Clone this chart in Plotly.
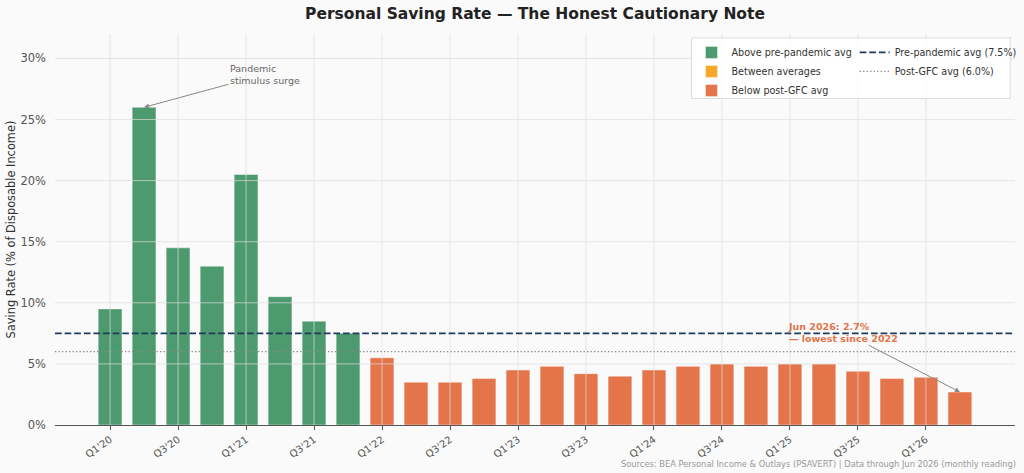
import plotly.graph_objects as go

quarters = ["Q1'20", "Q2'20", "Q3'20", "Q4'20", "Q1'21", "Q2'21", "Q3'21", "Q4'21",
            "Q1'22", "Q2'22", "Q3'22", "Q4'22", "Q1'23", "Q2'23", "Q3'23", "Q4'23",
            "Q1'24", "Q2'24", "Q3'24", "Q4'24", "Q1'25", "Q2'25", "Q3'25", "Q4'25",
            "Q1'26", "Q2'26"]
saving_rate = [9.5, 26.0, 14.5, 13.0, 20.5, 10.5, 8.5, 7.5,
               5.5, 3.5, 3.5, 3.8, 4.5, 4.8, 4.2, 4.0,
               4.5, 4.8, 5.0, 4.8, 5.0, 5.0, 4.4, 3.8,
               3.9, 2.7]
pre_pandemic_avg = 7.5
post_gfc_avg = 6.0
y_ticks = [0, 5, 10, 15, 20, 25, 30]
y_tick_labels = [f"{v}%" for v in y_ticks]

GREEN = "#4C9A6E"
AMBER = "#F5A82A"
ORANGE = "#E4744A"
NAVY = "#1F3A5F"
GREY = "#888888"
FONT = "DejaVu Sans"

x_idx = list(range(len(quarters)))
tick_idx = x_idx[::2]
tick_txt = quarters[::2]

above = [v if v >= pre_pandemic_avg else None for v in saving_rate]
between = [v if post_gfc_avg <= v < pre_pandemic_avg else None for v in saving_rate]
below = [v if v < post_gfc_avg else None for v in saving_rate]

fig = go.Figure()
edge = dict(color="rgba(255,255,255,0.55)", width=0.8)
for name, vals, col in [("Above pre-pandemic avg", above, GREEN),
                        ("Between averages", between, AMBER),
                        ("Below post-GFC avg", below, ORANGE)]:
    fig.add_trace(go.Bar(x=x_idx, y=vals, name=name, width=0.7,
                         marker=dict(color=col, line=edge),
                         legend="legend", hoverinfo="skip"))

DASH_NAVY = "6.7px,2.9px"
DOT_GREY = "1.3px,2.2px"
fig.add_trace(go.Scatter(x=[None], y=[None], mode="lines",
                         name=f"Pre-pandemic avg ({pre_pandemic_avg:.1f}%)",
                         line=dict(color=NAVY, width=1.8, dash=DASH_NAVY), legend="legend2"))
fig.add_trace(go.Scatter(x=[None], y=[None], mode="lines",
                         name=f"Post-GFC avg ({post_gfc_avg:.1f}%)",
                         line=dict(color=GREY, width=1.3, dash=DOT_GREY), legend="legend2"))

shapes = []
grid_col = "rgba(221,221,221,0.7)"
for yv in y_ticks[1:]:
    shapes.append(dict(type="line", xref="paper", x0=0, x1=1, yref="y", y0=yv, y1=yv,
                       line=dict(color=grid_col, width=1), layer="above"))
for xv in tick_idx:
    shapes.append(dict(type="line", xref="x", x0=xv, x1=xv, yref="paper", y0=0, y1=1,
                       line=dict(color=grid_col, width=1), layer="above"))
shapes.append(dict(type="line", xref="paper", x0=0, x1=1, yref="y",
                   y0=pre_pandemic_avg, y1=pre_pandemic_avg,
                   line=dict(color=NAVY, width=1.8, dash=DASH_NAVY), layer="above"))
shapes.append(dict(type="line", xref="paper", x0=0, x1=1, yref="y",
                   y0=post_gfc_avg, y1=post_gfc_avg,
                   line=dict(color=GREY, width=1.3, dash=DOT_GREY), layer="above"))
# legend frame
shapes.append(dict(type="rect", xref="paper", yref="paper",
                   x0=0.663, x1=0.995, y0=0.835, y1=0.99,
                   fillcolor="rgba(255,255,255,0.85)",
                   line=dict(color="#DDDDDD", width=1), layer="above"))

annotations = [
    dict(x=1, y=saving_rate[1], xref="x", yref="y",
         ax=4.56, ay=28.7, axref="x", ayref="y",
         text="Pandemic<br>stimulus surge", showarrow=True,
         xanchor="center", yanchor="middle", align="left",
         font=dict(family=FONT, size=9.5, color="#666666"),
         arrowhead=2, arrowsize=1, arrowwidth=1, arrowcolor=GREY),
    dict(x=len(quarters) - 1, y=saving_rate[-1], xref="x", yref="y",
         ax=21.57, ay=7.59, axref="x", ayref="y",
         text=f"<b>Jun 2026: {saving_rate[-1]:.1f}%<br>— lowest since 2022</b>", showarrow=True,
         xanchor="center", yanchor="middle", align="left",
         font=dict(family=FONT, size=9.5, color=ORANGE),
         arrowhead=2, arrowsize=1, arrowwidth=1, arrowcolor=GREY),
    dict(x=1.003, y=-0.1, xref="paper", yref="paper", showarrow=False,
         xanchor="right", yanchor="middle",
         text="Sources: BEA Personal Income & Outlays (PSAVERT) | Data through Jun 2026 (monthly reading)",
         font=dict(family=FONT, size=8.3, color="#999999")),
]

fig.update_layout(
    width=1024, height=473,
    margin=dict(l=55, r=9, t=34, b=48, autoexpand=False),
    paper_bgcolor="#FAFAFA", plot_bgcolor="#FAFAFA",
    barmode="overlay",
    title=dict(text="<b>Personal Saving Rate — The Honest Cautionary Note</b>",
               x=0.5, xref="paper", xanchor="center", y=0.972, yanchor="middle",
               font=dict(family=FONT, size=15.5, color="#222222")),
    font=dict(family=FONT, color="#555555"),
    shapes=shapes,
    annotations=annotations,
    legend=dict(x=0.663, y=0.99, xanchor="left", yanchor="top",
                bgcolor="rgba(0,0,0,0)", borderwidth=0,
                font=dict(family=FONT, size=9.6, color="#333333"),
                traceorder="normal"),
    legend2=dict(x=0.833, y=0.99, xanchor="left", yanchor="top",
                 bgcolor="rgba(0,0,0,0)", borderwidth=0,
                 font=dict(family=FONT, size=9.6, color="#333333"),
                 traceorder="normal"),
    xaxis=dict(range=[-1.62, 26.62], tickmode="array", tickvals=tick_idx, ticktext=tick_txt,
               tickangle=-35, tickfont=dict(family=FONT, size=10, color="#555555"),
               showgrid=False, zeroline=False, showline=True, linecolor="#555555", linewidth=1.2,
               ticks="outside", ticklen=4, tickcolor="#555555", automargin=False),
    yaxis=dict(range=[0, 32], tickmode="array", tickvals=y_ticks, ticktext=y_tick_labels,
               tickfont=dict(family=FONT, size=11.5, color="#555555"),
               showgrid=False, zeroline=False, showline=False, ticks="",
               ticklabelstandoff=8, automargin=False,
               title=dict(text="Saving Rate (% of Disposable Income)", standoff=2,
                          font=dict(family=FONT, size=11.4, color="#333333"))),
)

fig.write_html("out.html", config={"displayModeBar": False},
               post_script="document.body.style.margin='0';document.body.style.padding='0';")
